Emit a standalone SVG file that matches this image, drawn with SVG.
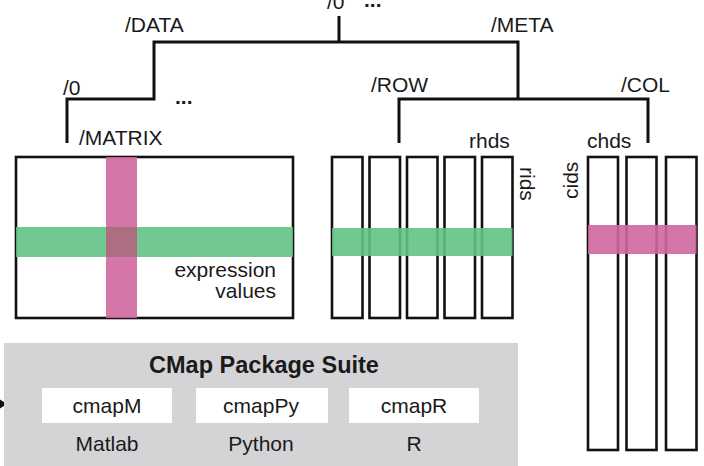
<svg xmlns="http://www.w3.org/2000/svg" width="704" height="466" viewBox="0 0 704 466">
<style>
text{font-family:"Liberation Sans",Arial,Helvetica,sans-serif;fill:#1a1a1a}
.lbl{font-size:21px}
.lines{fill:none;stroke:#111;stroke-width:3}
.box{fill:#fff;stroke:#111;stroke-width:2.6}
.green{fill:#62c385;opacity:0.9}
.pink{fill:#d0679f;opacity:0.9}
.pkg{fill:#fff}
.dots{font-size:21px;font-weight:bold}
</style>
<rect width="704" height="466" fill="#fff"/>
<g id="connectors" class="lines">
<polyline points="339,16 339,42"/>
<polyline points="67,143 67,99 154,99 154,42 518,42 518,99"/>
<polyline points="399,143 399,99 648,99 648,143"/>
<line x1="-2" y1="404" x2="3" y2="404"/>
<polygon points="0,399.5 7,404 0,408.5" fill="#111" stroke="none"/>
</g>
<g id="labels">
<text class="lbl" x="327" y="9">/0</text>
<text class="dots" x="364" y="7">...</text>
<text class="lbl" x="125" y="32">/DATA</text>
<text class="lbl" x="491" y="32">/META</text>
<text class="lbl" x="63" y="95">/0</text>
<text class="dots" x="175" y="104">...</text>
<text class="lbl" x="371" y="92">/ROW</text>
<text class="lbl" x="621" y="92">/COL</text>
</g>
<g id="matrix">
<rect class="box" x="16" y="157" width="277" height="161"/>
<rect class="green" x="16" y="227" width="277" height="30"/>
<rect class="pink" x="106" y="157" width="31" height="161"/>
<rect x="106" y="227" width="31" height="30" fill="#ad6e82"/>
<text class="lbl" x="79" y="145">/MATRIX</text>
<text class="lbl" x="276" y="277" text-anchor="end">expression</text>
<text class="lbl" x="276" y="298" text-anchor="end">values</text>
</g>
<g id="row-meta">
<rect class="box" x="332" y="157" width="30.5" height="161"/>
<rect class="box" x="369.5" y="157" width="30.5" height="161"/>
<rect class="box" x="407" y="157" width="30.5" height="161"/>
<rect class="box" x="444.5" y="157" width="30.5" height="161"/>
<rect class="box" x="482" y="157" width="30.5" height="161"/>
<rect class="green" x="332" y="228" width="180.5" height="28"/>
<text class="lbl" x="469" y="148">rhds</text>
<text class="lbl" transform="translate(520,167) rotate(90)">rids</text>
<!-- -->
</g>
<g id="col-meta">
<rect class="box" x="588" y="157" width="30" height="293"/>
<rect class="box" x="626.5" y="157" width="30" height="293"/>
<rect class="box" x="666" y="157" width="30.5" height="293"/>
<rect class="pink" x="588" y="225" width="108.5" height="29"/>
<text class="lbl" x="587" y="148">chds</text>
<text class="lbl" transform="translate(578,199) rotate(-90)">cids</text>
</g>
<g id="cmap-suite">
<rect x="4" y="343" width="514" height="130" fill="#d4d4d6"/>
<text x="264" y="373" text-anchor="middle" font-size="23.5px" font-weight="bold">CMap Package Suite</text>
</g>
<g id="cmapM">
<rect class="pkg" x="42" y="388" width="130" height="35"/>
<text class="lbl" x="107" y="413" text-anchor="middle">cmapM</text>
<text class="lbl" x="107" y="451" text-anchor="middle">Matlab</text>
</g>
<g id="cmapPy">
<rect class="pkg" x="196" y="388" width="132" height="35"/>
<text class="lbl" x="261" y="413" text-anchor="middle">cmapPy</text>
<text class="lbl" x="261" y="451" text-anchor="middle">Python</text>
</g>
<g id="cmapR">
<rect class="pkg" x="349" y="388" width="130" height="35"/>
<text class="lbl" x="414" y="413" text-anchor="middle">cmapR</text>
<text class="lbl" x="414" y="451" text-anchor="middle">R</text>
</g>
</svg>
